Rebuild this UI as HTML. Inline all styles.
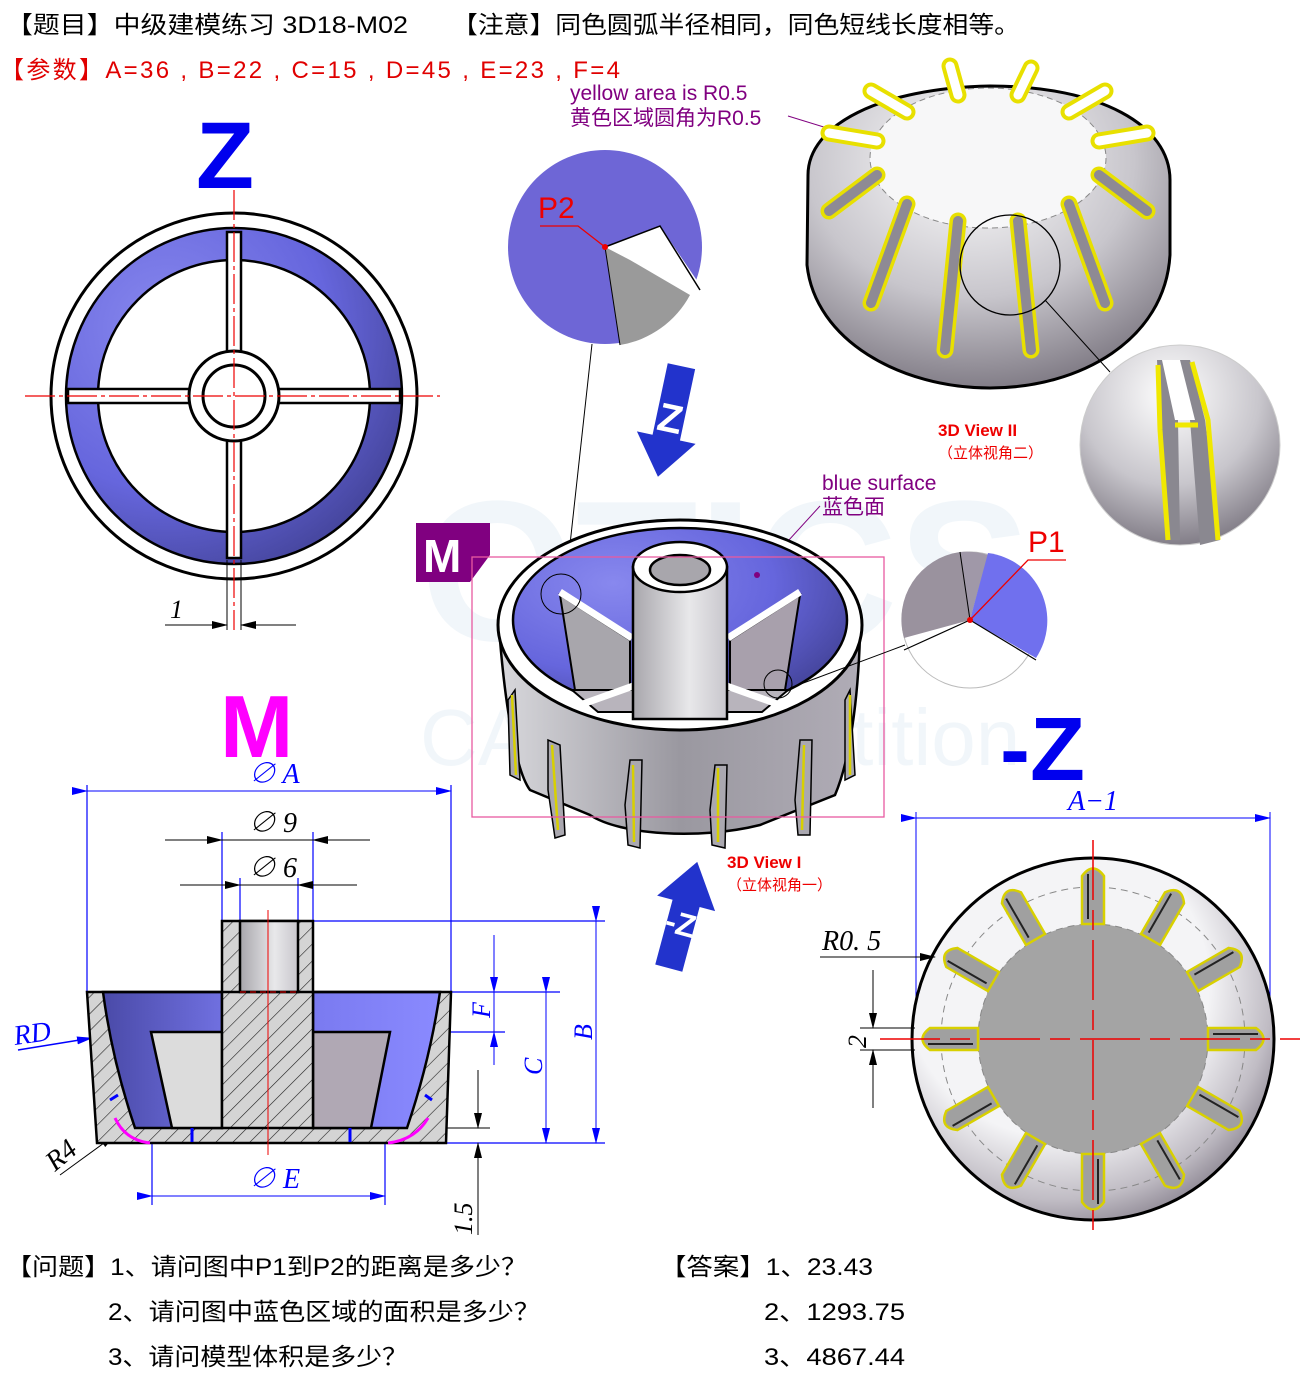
<!DOCTYPE html>
<html><head><meta charset="utf-8"><style>
html,body{margin:0;padding:0;background:#fff;}
svg{display:block;}
text{font-family:"Liberation Sans","Noto Sans CJK SC",sans-serif;}
.s{font-family:"Liberation Serif","Noto Serif CJK SC",serif;font-style:italic;}
</style></head><body>
<svg width="1300" height="1387" viewBox="0 0 1300 1387" xmlns="http://www.w3.org/2000/svg">
<defs>
<radialGradient id="blu" cx="0.3" cy="0.3" r="0.8"><stop offset="0" stop-color="#8888ee"/><stop offset="0.6" stop-color="#6666dd"/><stop offset="1" stop-color="#44449a"/></radialGradient>
<linearGradient id="bluL" x1="0" x2="1"><stop offset="0" stop-color="#4a4aa8"/><stop offset="1" stop-color="#7070e0"/></linearGradient>
<linearGradient id="bluR" x1="0" x2="1"><stop offset="0" stop-color="#7a7af0"/><stop offset="1" stop-color="#8a8aff"/></linearGradient>
<linearGradient id="gry" x1="0" x2="1"><stop offset="0" stop-color="#d8d8dc"/><stop offset="0.5" stop-color="#9a98a0"/><stop offset="1" stop-color="#b0acb6"/></linearGradient>
<linearGradient id="tube" x1="0" x2="1"><stop offset="0" stop-color="#a8a6ac"/><stop offset="0.6" stop-color="#e8e8ea"/><stop offset="1" stop-color="#c8c6cc"/></linearGradient>
<radialGradient id="met" cx="0.45" cy="0.25" r="0.9"><stop offset="0" stop-color="#ffffff"/><stop offset="0.5" stop-color="#c8c6cc"/><stop offset="1" stop-color="#605a66"/></radialGradient>
<radialGradient id="ring" cx="0.4" cy="0.35" r="0.7"><stop offset="0.6" stop-color="#f4f4f6"/><stop offset="0.85" stop-color="#c0bcc4"/><stop offset="1" stop-color="#8a8490"/></radialGradient>
<pattern id="hatch" width="12" height="12" patternUnits="userSpaceOnUse" patternTransform="rotate(45)"><rect width="12" height="12" fill="#d4d4d4"/><line x1="0" y1="0" x2="0" y2="12" stroke="#222" stroke-width="1.2"/></pattern>
<marker id="ab" markerWidth="16" markerHeight="8" refX="15" refY="4" orient="auto" markerUnits="userSpaceOnUse"><path d="M0,0 L16,4 L0,8 Z" fill="#0000ff"/></marker>
<marker id="ak" markerWidth="16" markerHeight="8" refX="15" refY="4" orient="auto" markerUnits="userSpaceOnUse"><path d="M0,0 L16,4 L0,8 Z" fill="#000"/></marker>
</defs>

<g opacity="0.06" fill="#2a7ab0"><text x="420" y="640" font-size="200" font-weight="bold">OTICS</text><text x="420" y="765" font-size="80">CAD competition</text></g>

<text x="6" y="33" font-size="24" fill="#000" textLength="402" lengthAdjust="spacingAndGlyphs">【题目】中级建模练习 3D18-M02</text>
<text x="452" y="33" font-size="24" fill="#000" textLength="568" lengthAdjust="spacingAndGlyphs">【注意】同色圆弧半径相同，同色短线长度相等。</text>
<text x="0" y="78" font-size="24" fill="#e00000" textLength="620" lengthAdjust="spacing">【参数】A=36 , B=22 , C=15 , D=45 , E=23 , F=4</text>

<text x="196" y="188" font-size="95" font-weight="bold" fill="#0000ee">Z</text>

<g>
<circle cx="234" cy="396" r="183" fill="#fff" stroke="#000" stroke-width="3"/>
<circle cx="234" cy="396" r="168" fill="url(#blu)" stroke="#000" stroke-width="2.5"/>
<circle cx="234" cy="396" r="136" fill="#fff" stroke="#000" stroke-width="2.5"/>
<rect x="227" y="232" width="14" height="326" fill="#fff" stroke="#000" stroke-width="2.5"/>
<rect x="68" y="389" width="332" height="14" fill="#fff" stroke="#000" stroke-width="2.5"/>
<circle cx="234" cy="396" r="45" fill="#fff" stroke="#000" stroke-width="3"/>
<circle cx="234" cy="396" r="31" fill="#fff" stroke="#000" stroke-width="3"/>
<g stroke="#e00" stroke-width="1.2" stroke-dasharray="30,4,4,4"><line x1="234" y1="190" x2="234" y2="630"/><line x1="25" y1="396" x2="440" y2="396"/></g>
<line x1="227" y1="560" x2="227" y2="630" stroke="#000"/><line x1="241" y1="560" x2="241" y2="630" stroke="#000"/>
<line x1="165" y1="625" x2="227" y2="625" stroke="#000" marker-end="url(#ak)"/>
<line x1="296" y1="625" x2="241" y2="625" stroke="#000" marker-end="url(#ak)"/>
<text x="170" y="618" font-size="26" class="s">1</text>
</g>

<circle cx="605" cy="247" r="97" fill="#6e66d6"/>
<path d="M605,247 L660,226 L700,285 L670,320 Z" fill="#fff"/>
<path d="M605,247 L620,345 A97,97 0 0 0 690,295 L630,260 Z" fill="#9a9a9a"/>
<path d="M605,247 L660,226 L700,290" fill="none" stroke="#000" stroke-width="1.5"/>
<line x1="605" y1="247" x2="620" y2="345" stroke="#000"/>
<text x="538" y="218" font-size="30" fill="#e00">P2</text>
<polyline points="540,226 578,226 605,247" fill="none" stroke="#e00" stroke-width="1.3"/>
<circle cx="605" cy="247" r="3" fill="#e00"/>
<line x1="592" y1="344" x2="565" y2="590" stroke="#000" stroke-width="1"/>

<text x="570" y="100" font-size="21" fill="#800080">yellow area is R0.5</text>
<text x="570" y="125" font-size="21" fill="#800080">黄色区域圆角为R0.5</text>
<line x1="788" y1="116" x2="840" y2="132" stroke="#800080"/>

<!-- Top-right 3D view II -->
<g>
<path d="M808,175 C808,125 880,88 990,86 C1100,86 1170,125 1170,180 L1170,255 C1165,340 1080,388 990,388 C900,388 815,340 807,265 Z" fill="url(#met)" stroke="#000" stroke-width="3"/>
<ellipse cx="988" cy="158" rx="118" ry="70" fill="#f7f7f8" stroke="#888" stroke-dasharray="6,4"/>
<g stroke-linecap="round">
<g stroke="#e8e000" stroke-width="17">
<line x1="1099" y1="175" x2="1147" y2="211"/><line x1="1069" y1="204" x2="1105" y2="303"/><line x1="1018" y1="221" x2="1031" y2="350"/>
<line x1="958" y1="221" x2="945" y2="350"/><line x1="907" y1="204" x2="871" y2="303"/><line x1="877" y1="175" x2="829" y2="211"/>
<line x1="877" y1="141" x2="829" y2="133"/><line x1="907" y1="112" x2="871" y2="91"/><line x1="958" y1="95" x2="950" y2="66"/>
<line x1="1018" y1="95" x2="1031" y2="68"/><line x1="1069" y1="112" x2="1105" y2="91"/><line x1="1099" y1="141" x2="1147" y2="133"/>
</g>
<g stroke="#8e8a94" stroke-width="10">
<line x1="1099" y1="175" x2="1147" y2="211"/><line x1="1069" y1="204" x2="1105" y2="303"/><line x1="1018" y1="221" x2="1031" y2="350"/>
<line x1="958" y1="221" x2="945" y2="350"/><line x1="907" y1="204" x2="871" y2="303"/><line x1="877" y1="175" x2="829" y2="211"/>
</g>
<g stroke="#fff" stroke-width="9">
<line x1="877" y1="141" x2="829" y2="133"/><line x1="907" y1="112" x2="871" y2="91"/><line x1="958" y1="95" x2="950" y2="66"/>
<line x1="1018" y1="95" x2="1031" y2="68"/><line x1="1069" y1="112" x2="1105" y2="91"/><line x1="1099" y1="141" x2="1147" y2="133"/>
</g>
</g>
<circle cx="1010" cy="265" r="50" fill="none" stroke="#000" stroke-width="1.3"/>
<line x1="1045" y1="300" x2="1110" y2="372" stroke="#000"/>
</g>

<circle cx="1180" cy="445" r="100" fill="url(#met)" stroke="#ccc"/>
<path d="M1157,360 L1190,360 L1205,420 L1220,540 L1200,545 L1190,420 L1178,420 L1180,540 L1165,540 Z" fill="#8a8890"/>
<path d="M1162,360 L1180,360 L1195,420 L1175,420 Z" fill="#fff"/>
<g stroke="#f0e800" stroke-width="5" fill="none"><path d="M1158,365 L1160,430 L1168,540"/><path d="M1192,362 L1208,420 L1218,540"/><path d="M1175,425 L1198,425"/></g>
<text x="938" y="436" font-size="17" font-weight="bold" fill="#e00">3D View II</text>
<text x="938" y="458" font-size="15" fill="#e00">（立体视角二）</text>

<!-- Z arrow down -->
<g transform="translate(670,420) rotate(12)">
<path d="M-14,-55 L14,-55 L14,18 L30,18 L0,58 L-30,18 L-14,18 Z" fill="#2233cc"/>
<text x="0" y="12" font-size="40" font-weight="bold" fill="#fff" text-anchor="middle">Z</text>
</g>

<text x="822" y="490" font-size="21" fill="#800080">blue surface</text>
<text x="822" y="514" font-size="21" fill="#800080">蓝色面</text>
<line x1="820" y1="506" x2="757" y2="575" stroke="#800080"/>

<path d="M416,523 L490,523 L490,555 L470,582 L416,582 Z" fill="#800080"/>
<text x="423" y="572" font-size="46" font-weight="bold" fill="#fff">M</text>

<!-- 3D view I -->
<g>
<path d="M500,640 C505,700 515,770 530,790 L590,815 C620,835 700,840 760,825 L835,795 C850,760 858,700 860,635 Z" fill="url(#gry)" stroke="#000" stroke-width="2.5"/>
<g fill="#aaa8b0" stroke="#000" stroke-width="1.5">
<path d="M548,790 L548,740 L560,745 L565,835 L555,838 Z"/><path d="M625,805 L630,760 L642,760 L640,848 L628,845 Z"/>
<path d="M710,810 L715,765 L727,765 L725,848 L712,845 Z"/><path d="M795,800 L800,740 L812,740 L810,835 L798,835 Z"/>
<path d="M508,700 L515,690 L520,780 L510,775 Z"/><path d="M845,700 L850,690 L855,775 L845,780 Z"/>
</g>
<g stroke="#d8d000" stroke-width="2.5"><line x1="552" y1="745" x2="558" y2="830"/><line x1="633" y1="765" x2="634" y2="842"/><line x1="718" y1="768" x2="718" y2="842"/><line x1="804" y1="745" x2="802" y2="830"/><line x1="512" y1="695" x2="516" y2="775"/><line x1="850" y1="695" x2="850" y2="775"/></g>
<ellipse cx="680" cy="625" rx="182" ry="105" fill="#fff" stroke="#000" stroke-width="3"/>
<ellipse cx="680" cy="620" rx="167" ry="92" fill="url(#blu)" stroke="#000" stroke-width="2.5"/>
<path d="M560,595 L630,640 L630,690 L575,690 Z" fill="#a8a6ac" stroke="#000" stroke-width="2"/>
<path d="M800,595 L730,640 L730,690 L785,690 Z" fill="#a8a0ac" stroke="#000" stroke-width="2"/>
<path d="M572,690 L650,690 L650,712 L598,712 Z" fill="#b8b4bc" stroke="#000" stroke-width="2"/>
<path d="M788,690 L710,690 L710,712 L762,712 Z" fill="#b8b4bc" stroke="#000" stroke-width="2"/>
<path d="M560,592 L632,638" stroke="#fff" stroke-width="7"/><path d="M800,592 L728,638" stroke="#fff" stroke-width="7"/>
<path d="M580,705 L650,680" stroke="#fff" stroke-width="7"/><path d="M780,705 L710,680" stroke="#fff" stroke-width="7"/>
<rect x="633" y="567" width="94" height="152" fill="url(#tube)" stroke="#000" stroke-width="2.5"/>
<ellipse cx="680" cy="567" rx="47" ry="25" fill="#fff" stroke="#000" stroke-width="2.5"/>
<ellipse cx="680" cy="570" rx="30" ry="15" fill="#a8a6ac" stroke="#000" stroke-width="2.5"/>
<circle cx="561" cy="594" r="20" fill="none" stroke="#000"/>
<circle cx="778" cy="684" r="14" fill="none" stroke="#000"/>
<circle cx="757" cy="575" r="3" fill="#800080"/>
<rect x="472" y="557" width="412" height="260" fill="none" stroke="#e85aa0" stroke-width="1.3"/>
</g>
<text x="727" y="868" font-size="17" font-weight="bold" fill="#e00">3D View I</text>
<text x="727" y="890" font-size="15" fill="#e00">（立体视角一）</text>

<circle cx="970" cy="620" r="68" fill="#fff" stroke="#bbb"/>
<path d="M970,620 L960,552 A68,68 0 0 0 904,638 Z" fill="#9a929e"/>
<path d="M970,620 L960,552 A68,68 0 0 1 988,555 Z" fill="#a098a8"/>
<path d="M970,620 L988,553 A68,68 0 0 1 1036,658 Z" fill="#7070ee"/>
<path d="M904,650 L970,620 L1036,660" fill="none" stroke="#000" stroke-width="1.2"/>
<line x1="970" y1="620" x2="960" y2="552" stroke="#000"/>
<line x1="790" y1="688" x2="905" y2="645" stroke="#000"/>
<text x="1028" y="552" font-size="30" fill="#e00">P1</text>
<polyline points="970,620 1028,560 1066,560" fill="none" stroke="#e00" stroke-width="1.3"/>
<circle cx="970" cy="620" r="3" fill="#e00"/>

<!-- -Z up arrow -->
<g transform="translate(683,915) rotate(15)">
<path d="M-14,55 L14,55 L14,-12 L30,-12 L0,-55 L-30,-12 L-14,-12 Z" fill="#2233cc"/>
<text x="0" y="20" font-size="32" font-weight="bold" fill="#fff" text-anchor="middle">-Z</text>
</g>

<text x="220" y="757" font-size="88" font-weight="bold" fill="#ff00ff">M</text>

<!-- Section view -->
<g>
<g stroke="#0000ff" stroke-width="1.2" fill="none">
<line x1="87" y1="785" x2="87" y2="992"/><line x1="451" y1="785" x2="451" y2="992"/>
<line x1="222" y1="832" x2="222" y2="921"/><line x1="313" y1="832" x2="313" y2="921"/>
<line x1="240" y1="878" x2="240" y2="921"/><line x1="298" y1="878" x2="298" y2="921"/>
<line x1="313" y1="921" x2="605" y2="921"/><line x1="451" y1="992" x2="560" y2="992"/>
<line x1="385" y1="1032" x2="505" y2="1032"/><line x1="446" y1="1143" x2="605" y2="1143"/>
<line x1="152" y1="1143" x2="152" y2="1205"/><line x1="385" y1="1143" x2="385" y2="1205"/>
</g>
<line x1="87" y1="791" x2="451" y2="791" stroke="#00f" marker-start="url(#ab)" marker-end="url(#ab)"/>
<line x1="152" y1="1196" x2="385" y2="1196" stroke="#00f" marker-start="url(#ab)" marker-end="url(#ab)"/>
<line x1="596" y1="921" x2="596" y2="1143" stroke="#00f" marker-start="url(#ab)" marker-end="url(#ab)"/>
<line x1="546" y1="992" x2="546" y2="1143" stroke="#00f" marker-start="url(#ab)" marker-end="url(#ab)"/>
<line x1="494" y1="935" x2="494" y2="992" stroke="#00f" marker-end="url(#ab)"/>
<line x1="494" y1="1065" x2="494" y2="1032" stroke="#00f" marker-end="url(#ab)"/>
<line x1="494" y1="992" x2="494" y2="1032" stroke="#00f"/>
<line x1="165" y1="840" x2="222" y2="840" stroke="#000" marker-end="url(#ak)"/>
<line x1="370" y1="840" x2="313" y2="840" stroke="#000" marker-end="url(#ak)"/>
<line x1="180" y1="885" x2="240" y2="885" stroke="#000" marker-end="url(#ak)"/>
<line x1="357" y1="885" x2="298" y2="885" stroke="#000" marker-end="url(#ak)"/>
<line x1="222" y1="840" x2="313" y2="840" stroke="#000"/><line x1="240" y1="885" x2="298" y2="885" stroke="#000"/>
<line x1="440" y1="1128" x2="490" y2="1128" stroke="#000"/>
<line x1="478" y1="1070" x2="478" y2="1128" stroke="#000" marker-end="url(#ak)"/>
<line x1="478" y1="1235" x2="478" y2="1143" stroke="#000" marker-end="url(#ak)"/>
<line x1="18" y1="1050" x2="92" y2="1038" stroke="#00f" stroke-width="1.5" marker-end="url(#ab)"/>
<line x1="60" y1="1175" x2="115" y2="1135" stroke="#000" marker-end="url(#ak)"/>

<rect x="97" y="1100" width="349" height="43" fill="#c8c8c8" stroke="#c8b800" stroke-width="2"/>
<path d="M87,992 L451,992 L446,1143 L97,1143 Z" fill="url(#hatch)"/>
<path d="M103,992 L222,992 L222,1128 L135,1128 Q112,1060 103,992 Z" fill="url(#bluL)" stroke="#000" stroke-width="2.5"/>
<path d="M313,992 L440,992 Q430,1060 407,1128 L313,1128 Z" fill="url(#bluR)" stroke="#000" stroke-width="2.5"/>
<path d="M151,1032 L222,1032 L222,1128 L172,1128 Z" fill="#dcdcdc" stroke="#000" stroke-width="2.5"/>
<path d="M313,1032 L390,1032 L371,1128 L313,1128 Z" fill="#b0a8b4" stroke="#000" stroke-width="2.5"/>
<rect x="222" y="921" width="91" height="207" fill="url(#hatch)" stroke="#000" stroke-width="2.5"/>
<rect x="240" y="921" width="58" height="71" fill="url(#tube)" stroke="#000" stroke-width="2.5"/>
<path d="M87,992 L451,992 L446,1143 L97,1143 Z" fill="none" stroke="#000" stroke-width="2.5"/>
<line x1="240" y1="992" x2="298" y2="992" stroke="#e00" stroke-dasharray="6,4"/>
<line x1="268" y1="910" x2="268" y2="1155" stroke="#e00" stroke-width="1"/>
<path d="M115,1118 Q125,1140 150,1143" fill="none" stroke="#ff00ff" stroke-width="3"/>
<path d="M428,1118 Q415,1140 388,1143" fill="none" stroke="#ff00ff" stroke-width="3"/>
<g stroke="#00f" stroke-width="3"><line x1="192" y1="1128" x2="192" y2="1142"/><line x1="350" y1="1128" x2="350" y2="1142"/><line x1="110" y1="1100" x2="118" y2="1095"/><line x1="425" y1="1095" x2="432" y2="1100"/></g>
<text x="248" y="783" font-size="28" fill="#00f" class="s">∅ A</text>
<text x="248" y="832" font-size="28" class="s">∅ 9</text>
<text x="248" y="877" font-size="28" class="s">∅ 6</text>
<text x="248" y="1188" font-size="28" fill="#00f" class="s">∅ E</text>
<text x="15" y="1045" font-size="28" fill="#00f" class="s" transform="rotate(-8 15 1045)">RD</text>
<text x="55" y="1172" font-size="28" class="s" transform="rotate(-40 55 1172)">R4</text>
<text x="490" y="1018" font-size="26" fill="#00f" class="s" transform="rotate(-90 490 1018)">F</text>
<text x="542" y="1075" font-size="26" fill="#00f" class="s" transform="rotate(-90 542 1075)">C</text>
<text x="592" y="1040" font-size="26" fill="#00f" class="s" transform="rotate(-90 592 1040)">B</text>
<text x="472" y="1235" font-size="26" class="s" transform="rotate(-90 472 1235)">1.5</text>
</g>

<text x="1000" y="780" font-size="90" font-weight="bold" fill="#0000ee">-Z</text>

<!-- bottom-right view -->
<g>
<line x1="916" y1="812" x2="916" y2="1040" stroke="#00f"/><line x1="1270" y1="812" x2="1270" y2="1040" stroke="#00f"/>
<line x1="916" y1="818" x2="1270" y2="818" stroke="#00f" marker-start="url(#ab)" marker-end="url(#ab)"/>
<text x="1068" y="810" font-size="28" fill="#00f" class="s">A−1</text>
<circle cx="1093" cy="1039" r="181" fill="url(#ring)" stroke="#000" stroke-width="3"/>
<circle cx="1093" cy="1039" r="152" fill="none" stroke="#888" stroke-dasharray="7,5"/>
<circle cx="1093" cy="1039" r="115" fill="#a4a4a4" stroke="#888" stroke-dasharray="7,5"/>
<g transform="translate(1093,1039)">
<g id="rb"><path d="M-11,-115 L11,-115 L11,-163 Q0,-178 -11,-163 Z" fill="#a0a0a0" stroke="#d8d000" stroke-width="2.5"/><line x1="-5" y1="-120" x2="-5" y2="-165" stroke="#222" stroke-width="2"/></g>
<use href="#rb" transform="rotate(30)"/><use href="#rb" transform="rotate(60)"/><use href="#rb" transform="rotate(90)"/>
<use href="#rb" transform="rotate(120)"/><use href="#rb" transform="rotate(150)"/><use href="#rb" transform="rotate(180)"/>
<use href="#rb" transform="rotate(210)"/><use href="#rb" transform="rotate(240)"/><use href="#rb" transform="rotate(270)"/>
<use href="#rb" transform="rotate(300)"/><use href="#rb" transform="rotate(330)"/>
</g>
<g stroke="#e00" stroke-width="1.5" stroke-dasharray="60,10,20,10"><line x1="1093" y1="840" x2="1093" y2="1240"/><line x1="880" y1="1039" x2="1300" y2="1039"/></g>
<line x1="820" y1="957" x2="905" y2="957" stroke="#000"/>
<line x1="905" y1="957" x2="935" y2="957" stroke="#000" marker-end="url(#ak)"/>
<text x="822" y="950" font-size="28" class="s">R0. 5</text>
<line x1="860" y1="1028" x2="915" y2="1028" stroke="#000"/><line x1="860" y1="1050" x2="915" y2="1050" stroke="#000"/>
<line x1="873" y1="970" x2="873" y2="1028" stroke="#000" marker-end="url(#ak)"/>
<line x1="873" y1="1108" x2="873" y2="1050" stroke="#000" marker-end="url(#ak)"/>
<text x="866" y="1048" font-size="26" class="s" transform="rotate(-90 866 1048)">2</text>
</g>

<text x="6" y="1275" font-size="24" textLength="521" lengthAdjust="spacingAndGlyphs">【问题】1、请问图中P1到P2的距离是多少？</text>
<text x="108" y="1320" font-size="24" textLength="432" lengthAdjust="spacingAndGlyphs">2、请问图中蓝色区域的面积是多少？</text>
<text x="108" y="1365" font-size="24" textLength="300" lengthAdjust="spacingAndGlyphs">3、请问模型体积是多少？</text>
<text x="660" y="1275" font-size="24" textLength="213" lengthAdjust="spacingAndGlyphs">【答案】1、23.43</text>
<text x="764" y="1320" font-size="24" textLength="141" lengthAdjust="spacingAndGlyphs">2、1293.75</text>
<text x="764" y="1365" font-size="24" textLength="141" lengthAdjust="spacingAndGlyphs">3、4867.44</text>
</svg>
</body></html>
